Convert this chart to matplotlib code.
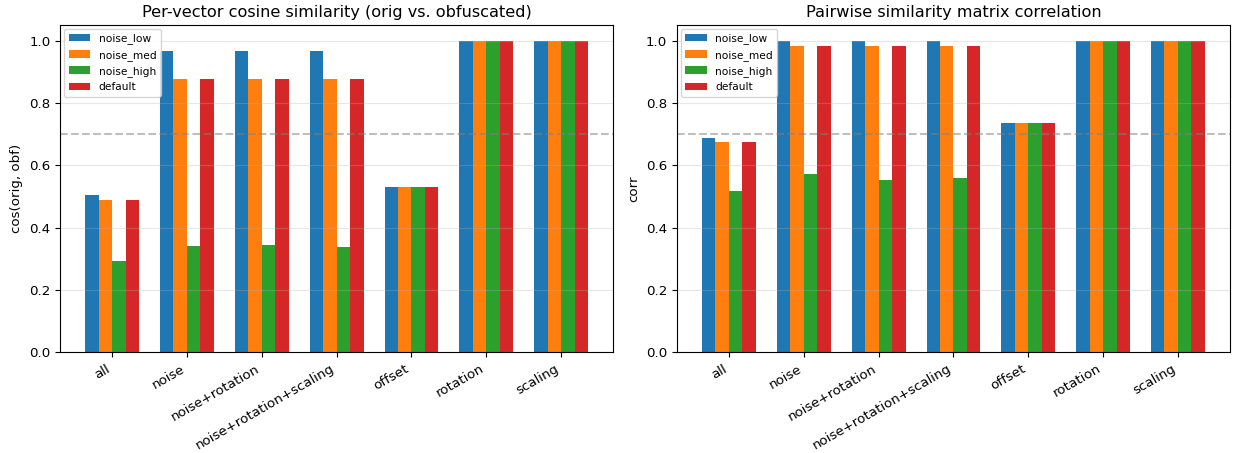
import numpy as np
import matplotlib.pyplot as plt

categories = ['all', 'noise', 'noise+rotation', 'noise+rotation+scaling',
              'offset', 'rotation', 'scaling']
series = ['noise_low', 'noise_med', 'noise_high', 'default']

# per-vector cosine similarity
cos_low = [0.505, 0.965, 0.965, 0.965, 0.530, 1.0, 1.0]
cos_med = [0.490, 0.876, 0.876, 0.876, 0.530, 1.0, 1.0]
cos_high = [0.293, 0.342, 0.344, 0.337, 0.530, 1.0, 1.0]
cos_default = [0.490, 0.876, 0.876, 0.876, 0.530, 1.0, 1.0]

# pairwise similarity matrix correlation
corr_low = [0.687, 1.0, 1.0, 1.0, 0.736, 1.0, 1.0]
corr_med = [0.675, 0.984, 0.982, 0.984, 0.736, 1.0, 1.0]
corr_high = [0.518, 0.572, 0.554, 0.560, 0.736, 1.0, 1.0]
corr_default = [0.675, 0.984, 0.982, 0.984, 0.736, 1.0, 1.0]

colors = ['#1f77b4', '#ff7f0e', '#2ca02c', '#d62728']

plt.rcParams['font.size'] = 9.6

fig, axes = plt.subplots(1, 2, figsize=(12.33, 4.53), dpi=100)
fig.subplots_adjust(left=0.0487, right=0.9976, bottom=0.222, top=0.945, wspace=0.115)

panels = [
    (axes[0], [cos_low, cos_med, cos_high, cos_default],
     'Per-vector cosine similarity (orig vs. obfuscated)', 'cos(orig, obf)'),
    (axes[1], [corr_low, corr_med, corr_high, corr_default],
     'Pairwise similarity matrix correlation', 'corr'),
]

x = np.arange(len(categories))
width = 0.18

for ax, data, title, ylabel in panels:
    for i, (name, vals) in enumerate(zip(series, data)):
        ax.bar(x + (i - 1.5) * width, vals, width, color=colors[i], label=name)
    ax.axhline(0.7, color='gray', linestyle='--', alpha=0.5)
    ax.set_xticks(x)
    ax.set_xticklabels(categories, rotation=30, ha='right')
    ax.set_ylim(0, 1.05)
    ax.set_ylabel(ylabel)
    ax.set_title(title, fontsize=11.6)
    ax.grid(axis='y', alpha=0.3)
    ax.legend(fontsize=7.7, loc='upper left', borderaxespad=0.4)

plt.savefig('out.png')
